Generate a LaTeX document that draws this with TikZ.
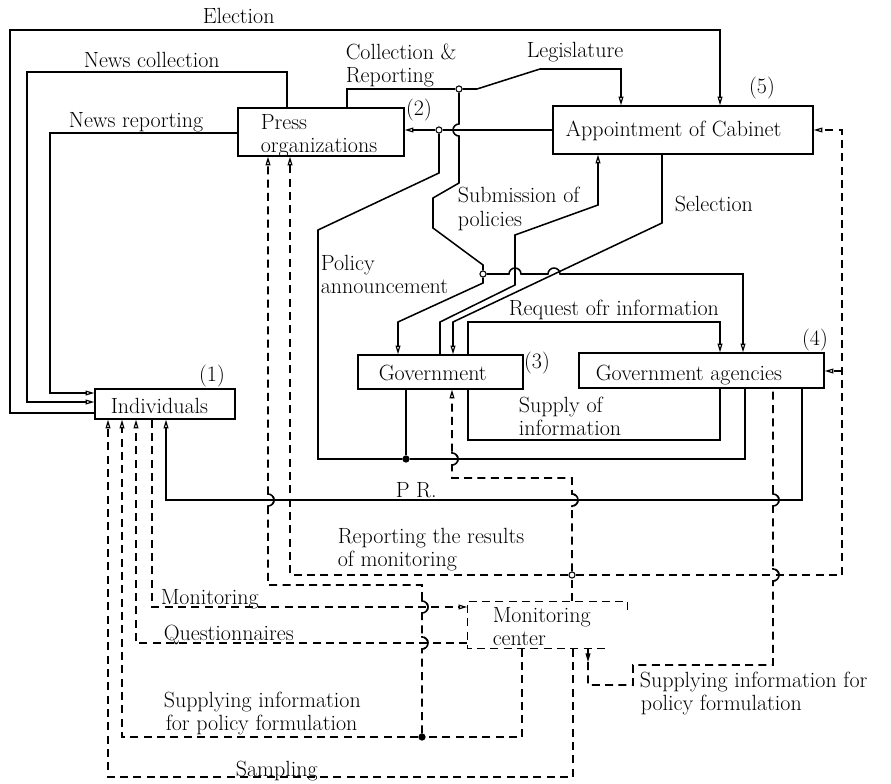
\documentclass[tikz,border=0pt]{standalone}
\usepackage{fontspec}
\usetikzlibrary{arrows.meta,fit,decorations.markings}
\begin{document}
\begin{tikzpicture}[x=0.75pt,y=-0.75pt,
  line width=1.15pt,
  >={Triangle[open,length=6.5pt,width=3.6pt,line width=0.9pt]},
  box/.style={draw,inner sep=0pt,line width=1pt},
  hidden/.style={inner sep=0pt},
  dline/.style={dash pattern=on 6pt off 4pt},
  lbl/.style={anchor=base west,inner sep=0pt,font=\fontsize{16.5pt}{18pt}\selectfont},
  num/.style={inner sep=0pt,font=\fontsize{16.5pt}{18pt}\selectfont},
  jn/.style={circle,draw,fill=white,inner sep=0pt,minimum size=4.6pt,line width=0.8pt},
  jd/.style={jn,fill=black}]

\path[use as bounding box,fill=white] (0,0) rectangle (891,784);

% ---------- blocks ----------
\node[box,fit={(95,389)(235,419)}]  (ind)   {};
\node[box,fit={(238,108)(404,156)}] (press) {};
\node[box,fit={(553,106)(813,154)}] (cab)   {};
\node[box,fit={(358,355)(523,389)}] (gov)   {};
\node[box,fit={(579,353)(824,388)}] (agy)   {};
\node[hidden,fit={(468,602)(627,648)}] (mc) {};
\draw[dline,line width=1pt] (mc.north east) ++(0,9) -- (mc.north east) -- (mc.north west)
  -- (mc.south west) -- (mc.south west -| 607,0);

% ---------- junction points ----------
\node[jn] (j1) at (459,89)  {};
\node[jn] (j2) at (439,130) {};
\node[jn] (j4) at (483,274) {};
\node[jd] (j5) at (406,459) {};
\node[jd] (j6) at (422,737) {};
\node[jn] (j7) at (572,575) {};
\coordinate (b1) at (842,371);

% ---------- solid connectors ----------
% Election
\draw[->] (ind.west |- 0,413) -| (10,30) -| (cab.north -| 720,0);
% News collection
\draw[->] (press.north -| 287,0) |- (27,72) |- (ind.west |- 0,402);
% News reporting
\draw[->] (press.west |- 0,133) -| (50,393) -- (ind.west |- 0,393);
% Collection & Reporting / Legislature
\draw (press.north -| 347,0) |- (j1);
\draw[->] (j1) -- (477,89) -- (540,69) -| (cab.north -| 621,0);
\draw (j1) -- (459,124) arc[start angle=-90,end angle=-270,radius=6]
  -- (459,183) -- (433,198) -- (433,228) -- (483,265) -- (j4);
\draw[->] (j4) -- (483,283) -- (398,322) -- (gov.north -| 398,0);
\draw[->] (j4) -- (509,274) arc[start angle=180,end angle=360,radius=6]
  -- (548,274) arc[start angle=180,end angle=360,radius=6]
  -- (743,274) -- (agy.north -| 743,0);
% Cabinet to press
\draw (cab.west) -- (j2);
\draw[->] (j2) -- (press.east |- j2);
% Policy announcement
\draw (j2) -- (439,173) -- (318,230) -- (318,459) -- (j5);
\draw (gov.south -| 406,0) -- (j5);
\draw (j5) -| (agy.south -| 745,0);
% Submission of policies
\draw[->] (gov.north -| 440,0) -- (440,322) -- (515,285) -- (515,235) -- (598,205)
  -- (cab.south -| 598,0);
% Selection
\draw[->] (cab.south -| 662,0) -- (662,223) -- (453,322) -- (gov.north -| 453,0);
% Request for information
\draw[->] (gov.north -| 468,0) |- (720,322) -- (agy.north -| 720,0);
% Supply of information
\draw (agy.south -| 720,0) |- (468,440) -- (gov.south -| 468,0);
% P.R.
\draw[->] (agy.south -| 802,0) |- (166,500) -- (ind.south -| 166,0);

% ---------- dashed connectors ----------
% Monitoring
\draw[dline,->] (ind.south -| 152,0) |- (mc.west |- 0,607);
% Questionnaires
\draw[dline,->] (mc.west |- 0,643) -| (ind.south -| 136,0);
% Supplying information for policy formulation (to individuals and press)
\draw[dline] (mc.south -| 522,0) |- (j6);
\draw[dline,->] (j6) -| (ind.south -| 122,0);
\draw[dline,->] (j6) -- (422,649) arc[start angle=90,end angle=-90,radius=6]
  -- (422,613) arc[start angle=90,end angle=-90,radius=6]
  -- (422,585) -- (268,585) -- (268,506) arc[start angle=90,end angle=-90,radius=6]
  -- (press.south -| 268,0);
% Sampling
\draw[dline,->] (mc.south -| 573,0) |- (108,777) -- (ind.south -| 108,0);
% Reporting the results of monitoring
\draw[dline] (mc.north -| 572,0) -- (j7);
\draw[dline,->] (j7) -| (press.south -| 290,0);
\draw[dline,->] (j7) -| (842,130) -- (cab.east |- 0,130);
\draw[dline,->] (b1) -- (agy.east |- b1);
\draw[dline,->] (j7) -- (572,506) arc[start angle=90,end angle=-90,radius=6]
  -- (572,478) -- (452,478) -- (452,465) arc[start angle=90,end angle=-90,radius=6]
  -- (gov.south -| 452,0);
% Supplying information for policy formulation (to agencies)
\draw[dline,postaction={decorate},
  decoration={markings,mark=at position 10pt with {\arrow{>}}}]
  (mc.south -| 588,0) -- (588,685) -- (633,685) -- (633,665) -- (773,665)
  -- (773,581) arc[start angle=90,end angle=-90,radius=6]
  -- (773,506) arc[start angle=90,end angle=-90,radius=6]
  -- (agy.south -| 773,0);
% crossing bridges of the dashed lines, drawn as full strokes
\foreach \hx/\hy in {422/607,422/643,268/500,572/500,452/459,773/500,773/575}
  \draw (\hx,\hy-7) -- (\hx,\hy-6) arc[start angle=-90,end angle=90,radius=6] -- (\hx,\hy+7);

% ---------- labels ----------
\node[lbl] (tElection) at (202,24)  {Election};
\node[lbl] (tNewsCol)  at (83,68)   {News collection};
\node[lbl] (tNewsRep)  at (68,128)  {News reporting};
\node[lbl] (tColl)     at (345,60)  {Collection \&};
\node[lbl] (tRep)      at (345,83)  {Reporting};
\node[lbl] (tLeg)      at (526,58)  {Legislature};
\node[num] (n2)        at (419,110) {(2)};
\node[num] (n5)        at (762,88)  {(5)};
\node[lbl] (tPress)    at (260,130) {Press};
\node[lbl] (tOrg)      at (260,153) {organizations};
\node[lbl] (tCab)      at (565,137) {Appointment of Cabinet};
\node[lbl] (tSub1)     at (457,203) {Submission of};
\node[lbl] (tSub2)     at (457,226) {policies};
\node[lbl] (tSel)      at (674,212) {Selection};
\node[lbl] (tPol1)     at (320,270) {Policy};
\node[lbl] (tPol2)     at (320,293) {announcement};
\node[lbl] (tReq)      at (508,315) {Request ofr information};
\node[lbl] (tGov)      at (378,380) {Government};
\node[num] (n3)        at (537,363) {(3)};
\node[lbl] (tAgy)      at (595,380) {Government agencies};
\node[num] (n4)        at (815,340) {(4)};
\node[num] (n1)        at (212,376) {(1)};
\node[lbl] (tInd)      at (110,413) {Individuals};
\node[lbl] (tSup1)     at (518,412) {Supply of};
\node[lbl] (tSup2)     at (518,435) {information};
\node[lbl] (tPR)       at (395,497) {P R.};
\node[lbl] (tRes1)     at (337,543) {Reporting the results};
\node[lbl] (tRes2)     at (337,566) {of monitoring};
\node[lbl] (tMon)      at (160,604) {Monitoring};
\node[lbl] (tQue)      at (163,640) {Questionnaires};
\node[lbl] (tSpl1)     at (163,707) {Supplying information};
\node[lbl] (tSpl2)     at (165,730) {for policy formulation};
\node[lbl] (tSam)      at (235,776) {Sampling};
\node[lbl] (tMc1)      at (492,622) {Monitoring};
\node[lbl] (tMc2)      at (492,645) {center};
\node[lbl] (tSpr1)     at (639,687) {Supplying information for};
\node[lbl] (tSpr2)     at (640,710) {policy formulation};
\end{tikzpicture}
\end{document}
